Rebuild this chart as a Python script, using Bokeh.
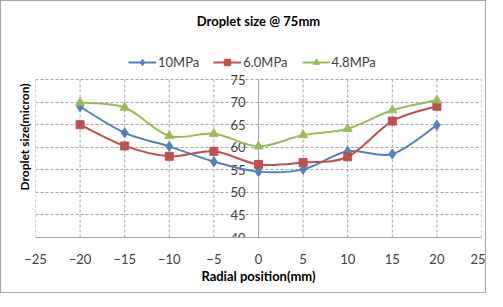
import numpy as np
from bokeh.plotting import figure
from bokeh.models import Range1d, FixedTicker, Legend, LegendItem, ColumnDataSource, LinearAxis
from bokeh.core.properties import value
from bokeh.embed import file_html
from bokeh.resources import INLINE

# ---- data ----
x_pos = [-20, -15, -10, -5, 0, 5, 10, 15, 20]
s_10mpa = [69.0, 63.2, 60.2, 56.8, 54.6, 55.1, 59.1, 58.5, 64.9]
s_6mpa = [65.0, 60.3, 58.0, 59.1, 56.2, 56.6, 57.9, 65.8, 69.1]
s_48mpa = [69.9, 68.8, 62.5, 63.0, 60.2, 62.7, 64.1, 68.2, 70.4]
series_names = ["10MPa", "6.0MPa", "4.8MPa"]
x_ticks = [-25, -20, -15, -10, -5, 0, 5, 10, 15, 20, 25]
y_ticks = [40, 45, 50, 55, 60, 65, 70, 75]
y_tick_labels = [str(v) for v in y_ticks]

FONT = "Lato"
TXT = "#404040"
GRID = "#a6a6a6"

p = figure(width=486, height=293, output_backend="svg", toolbar_location=None,
           x_range=Range1d(-25, 25), y_range=Range1d(40, 84.55),
           min_border_left=34, min_border_right=6, min_border_top=35, min_border_bottom=57)
p.styles = {"border": "1px solid #a6a6a6"}
p.outline_line_color = None
p.background_fill_color = "white"

# title
p.title.text = "Droplet size @ 75mm"
p.title.align = "center"
p.title.text_font = FONT
p.title.text_font_size = "13px"
p.title.text_font_style = "bold"
p.title.text_color = "black"
p.title.standoff = 16

# x axis
p.xaxis.ticker = FixedTicker(ticks=x_ticks)
p.xaxis.axis_line_color = GRID
p.xaxis.major_tick_line_color = None
p.xaxis.minor_tick_line_color = None
p.xaxis.major_label_text_font = FONT
p.xaxis.major_label_text_font_size = "13px"
p.xaxis.major_label_text_color = TXT
p.xaxis.major_label_standoff = 10
p.xaxis.axis_label = "Radial position(mm)"
p.xaxis.axis_label_text_font = FONT
p.xaxis.axis_label_text_font_size = "13px"
p.xaxis.axis_label_text_font_style = "bold"
p.xaxis.axis_label_text_color = "black"
p.xaxis.axis_label_standoff = 1

# y axis (label only; ticks drawn at x=0)
p.yaxis.ticker = FixedTicker(ticks=[])
p.yaxis.axis_line_color = None
p.yaxis.major_tick_line_color = None
p.yaxis.minor_tick_line_color = None
p.yaxis.axis_label = "Droplet size(micron)"
p.yaxis.axis_label_text_font = FONT
p.yaxis.axis_label_text_font_size = "12px"
p.yaxis.axis_label_text_font_style = "bold"
p.yaxis.axis_label_text_color = "black"
p.yaxis.axis_label_standoff = 4

# empty outer axis, only to shift the y label toward the plot
spacer = LinearAxis(ticker=FixedTicker(ticks=[]), axis_line_color=None,
                    major_tick_line_color=None, minor_tick_line_color=None,
                    major_tick_out=4, major_tick_in=0, minor_tick_out=0, minor_tick_in=0)
p.add_layout(spacer, "left")

# grids: horizontal via grid, vertical as segments limited to the tick span
p.xgrid.visible = False
p.ygrid.ticker = FixedTicker(ticks=y_ticks)
p.ygrid.grid_line_color = GRID
p.ygrid.grid_line_dash = "3 2"
nx = len(x_ticks)
p.segment(x0=x_ticks, y0=[y_ticks[0]] * nx, x1=x_ticks, y1=[y_ticks[-1]] * nx,
          line_color=GRID, line_dash="3 2", line_width=1)

# central y axis at x = 0
p.segment(x0=[0], y0=[y_ticks[0]], x1=[0], y1=[y_ticks[-1]], line_color=GRID, line_width=1)
p.text(x=[0] * len(y_ticks), y=y_ticks, text=y_tick_labels, text_align="right",
       text_baseline="middle", x_offset=-13, text_font=value(FONT),
       text_font_size=value("13px"), text_color=TXT)


def bezier_parts(xs, ys):
    xs = np.asarray(xs, float)
    ys = np.asarray(ys, float)
    n = len(xs)
    x0, y0, x1, y1, cx0, cy0, cx1, cy1 = ([] for _ in range(8))
    for i in range(n - 1):
        pm = max(i - 1, 0)
        pp = min(i + 2, n - 1)
        x0.append(xs[i]); y0.append(ys[i]); x1.append(xs[i + 1]); y1.append(ys[i + 1])
        cx0.append(xs[i] + (xs[i + 1] - xs[pm]) / 6)
        cy0.append(ys[i] + (ys[i + 1] - ys[pm]) / 6)
        cx1.append(xs[i + 1] - (xs[pp] - xs[i]) / 6)
        cy1.append(ys[i + 1] - (ys[pp] - ys[i]) / 6)
    return dict(x0=x0, y0=y0, x1=x1, y1=y1, cx0=cx0, cy0=cy0, cx1=cx1, cy1=cy1)


colors = ["#4F81BD", "#C0504D", "#9BBB59"]
markers = ["diamond", "square", "triangle"]
msizes = [10, 8, 9]
items = []
for name, ys, c, m, ms in zip(series_names, [s_10mpa, s_6mpa, s_48mpa], colors, markers, msizes):
    src = ColumnDataSource(bezier_parts(x_pos, ys))
    br = p.bezier(x0="x0", y0="y0", x1="x1", y1="y1", cx0="cx0", cy0="cy0", cx1="cx1", cy1="cy1",
                  source=src, line_color=c, line_width=2)
    sr = p.scatter(x_pos, ys, marker=m, size=ms, fill_color=c, line_color=c)
    items.append(LegendItem(label=name, renderers=[br, sr]))

legend = Legend(items=items, orientation="horizontal", location=(93, 167),
                label_text_font=FONT, label_text_font_size="13px", label_text_color=TXT,
                border_line_color=None, background_fill_alpha=0, glyph_width=28,
                label_height=16, glyph_height=16,
                spacing=14, label_standoff=2, margin=0, padding=2)
p.add_layout(legend, "center")

open("out.html", "w").write(file_html(p, INLINE))
